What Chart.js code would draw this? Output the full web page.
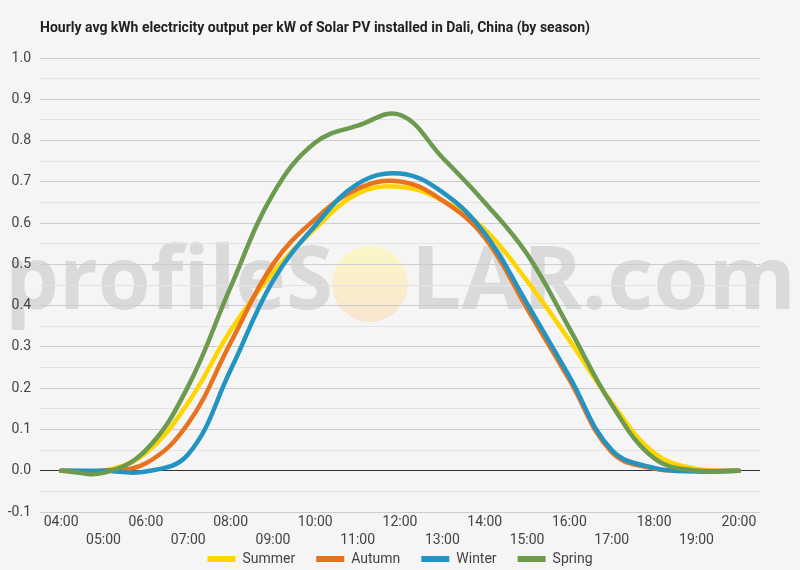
<!DOCTYPE html>
<html>
<head>
<meta charset="utf-8">
<title>Dali, China - hourly solar PV output by season</title>
<script src="https://cdn.jsdelivr.net/npm/chart.js@4.4.1/dist/chart.umd.min.js"></script>
<style>
    html, body { margin: 0; padding: 0; background: #f5f5f5; }
    #wrap { position: relative; width: 800px; height: 570px; }
</style>
</head>
<body>
<div id="wrap"><canvas id="seasonChart"></canvas></div>
<script>
// hours of the day (category axis)
const hours = [
    '04:00', '05:00', '06:00', '07:00', '08:00', '09:00', '10:00', '11:00', '12:00',
    '13:00', '14:00', '15:00', '16:00', '17:00', '18:00', '19:00', '20:00',
];

// kWh per kW installed
const summer = [0, 0, 0.043, 0.165, 0.34, 0.48, 0.587, 0.671, 0.688, 0.655, 0.585, 0.46, 0.316, 0.165, 0.043, 0.004, 0];
const autumn = [0, 0, 0.018, 0.115, 0.31, 0.50, 0.61, 0.683, 0.701, 0.655, 0.565, 0.393, 0.22, 0.045, 0.005, 0, 0];
const winter = [0, 0, -0.002, 0.04, 0.244, 0.46, 0.594, 0.695, 0.72, 0.675, 0.575, 0.405, 0.228, 0.05, 0.007, -0.002, 0];
const spring = [0, -0.005, 0.05, 0.205, 0.445, 0.67, 0.795, 0.836, 0.862, 0.759, 0.65, 0.525, 0.345, 0.16, 0.03, 0, 0];

const seasonNames = ['Summer', 'Autumn', 'Winter', 'Spring'];
const seasonColors = ['#FFD500', '#E8731E', '#2394C2', '#6C9A4F'];

const yMin = -0.1;
const yMax = 1.0;
const yStep = 0.05;

const chartTitle = 'Hourly avg kWh electricity output per kW of Solar PV installed in Dali, China (by season)';

const FONT = 'Roboto, "Noto Sans", sans-serif';

function isMajorTick(value) {
    return Math.round(value * 100) % 10 === 0;
}

// stretch a word horizontally so it covers [x0, x1]
function drawFitted(ctx, text, x0, x1, baseline) {
    const w = ctx.measureText(text).width;
    ctx.save();
    ctx.translate(x0, baseline);
    ctx.scale((x1 - x0) / w, 1);
    ctx.fillText(text, 0, 0);
    ctx.restore();
}

// background + profileSOLAR.com watermark, drawn under the grid
const watermarkPlugin = {
    id: 'watermark',
    beforeDraw(chart) {
        const ctx = chart.ctx;
        ctx.save();
        ctx.fillStyle = '#f5f5f5';
        ctx.fillRect(0, 0, chart.width, chart.height);

        ctx.fillStyle = '#dadada';
        ctx.font = 'bold 88px "Open Sans", Roboto, sans-serif';
        ctx.textBaseline = 'alphabetic';
        drawFitted(ctx, 'profileS', 5, 333, 309);
        drawFitted(ctx, 'LAR.com', 411, 796, 309);

        const sun = ctx.createLinearGradient(0, 246, 0, 322);
        sun.addColorStop(0, '#fbf7c6');
        sun.addColorStop(1, '#f8e5d0');
        ctx.fillStyle = sun;
        ctx.beginPath();
        ctx.arc(370, 284, 38, 0, Math.PI * 2);
        ctx.fill();
        ctx.restore();
    },
};

// the x axis is fitted short so the legend can sit close under it;
// widen its box again afterwards so the two label rows are not clipped
const xLabelRoomPlugin = {
    id: 'xLabelRoom',
    afterLayout(chart) {
        const x = chart.scales.x;
        x.bottom = x.top + 45;
        x.height = 45;
    },
};

const seriesList = [summer, autumn, winter, spring];

const datasets = seriesList.map((values, i) => ({
    label: seasonNames[i],
    data: values,
    borderColor: seasonColors[i],
    backgroundColor: seasonColors[i],
    borderWidth: 4.5,
    pointRadius: 0,
    pointHoverRadius: 0,
    tension: 0.4,
    fill: false,
    // later seasons drawn on top
    order: seriesList.length - i,
}));

const ctx = document.getElementById('seasonChart').getContext('2d');

new Chart(ctx, {
    type: 'line',
    data: {
        labels: hours,
        datasets,
    },
    plugins: [watermarkPlugin, xLabelRoomPlugin],
    options: {
        responsive: true,
        maintainAspectRatio: false,
        animation: false,
        layout: {
            padding: { top: 0, right: 40, bottom: -6, left: 0 },
        },
        elements: {
            line: {
                borderCapStyle: 'round',
                borderJoinStyle: 'round',
            },
        },
        plugins: {
            tooltip: { enabled: false },
            title: {
                display: true,
                text: chartTitle,
                align: 'start',
                fullSize: false,
                color: '#222222',
                font: {
                    family: FONT,
                    size: 14,
                    weight: 'bold',
                },
                padding: { top: 20, bottom: 21.2 },
            },
            legend: {
                display: true,
                position: 'bottom',
                fullSize: false,
                labels: {
                    color: '#444444',
                    boxWidth: 28,
                    boxHeight: 6,
                    padding: 21,
                    font: { family: FONT, size: 14 },
                    generateLabels(chart) {
                        return chart.data.datasets.map((ds, i) => ({
                            text: ds.label,
                            fillStyle: ds.borderColor,
                            strokeStyle: ds.borderColor,
                            lineWidth: 0,
                            hidden: false,
                            datasetIndex: i,
                            fontColor: '#444444',
                        }));
                    },
                },
            },
        },
        scales: {
            x: {
                type: 'category',
                offset: true,
                grid: { display: false, drawTicks: false },
                border: { display: false },
                afterFit(scale) {
                    scale.height = 19;
                },
                ticks: {
                    autoSkip: false,
                    maxRotation: 0,
                    minRotation: 0,
                    padding: 1,
                    color: '#444444',
                    font: { family: FONT, size: 14, lineHeight: 1.3 },
                    callback(value, index) {
                        const label = hours[index];
                        return index % 2 === 0 ? label : ['', label];
                    },
                },
            },
            y: {
                min: yMin,
                max: yMax,
                border: { display: false },
                afterFit(scale) {
                    scale.width = 40;
                },
                grid: {
                    drawTicks: false,
                    color(context) {
                        const v = context.tick.value;
                        if (Math.abs(v) < 1e-9) return '#333333';
                        return isMajorTick(v) ? '#cccccc' : '#e3e3e3';
                    },
                    lineWidth: 1,
                },
                ticks: {
                    stepSize: yStep,
                    autoSkip: false,
                    padding: 9,
                    color: '#444444',
                    font: { family: FONT, size: 14 },
                    callback(value) {
                        return isMajorTick(value) ? (Math.round(value * 10) / 10).toFixed(1) : '';
                    },
                },
            },
        },
    },
});
</script>
</body>
</html>
